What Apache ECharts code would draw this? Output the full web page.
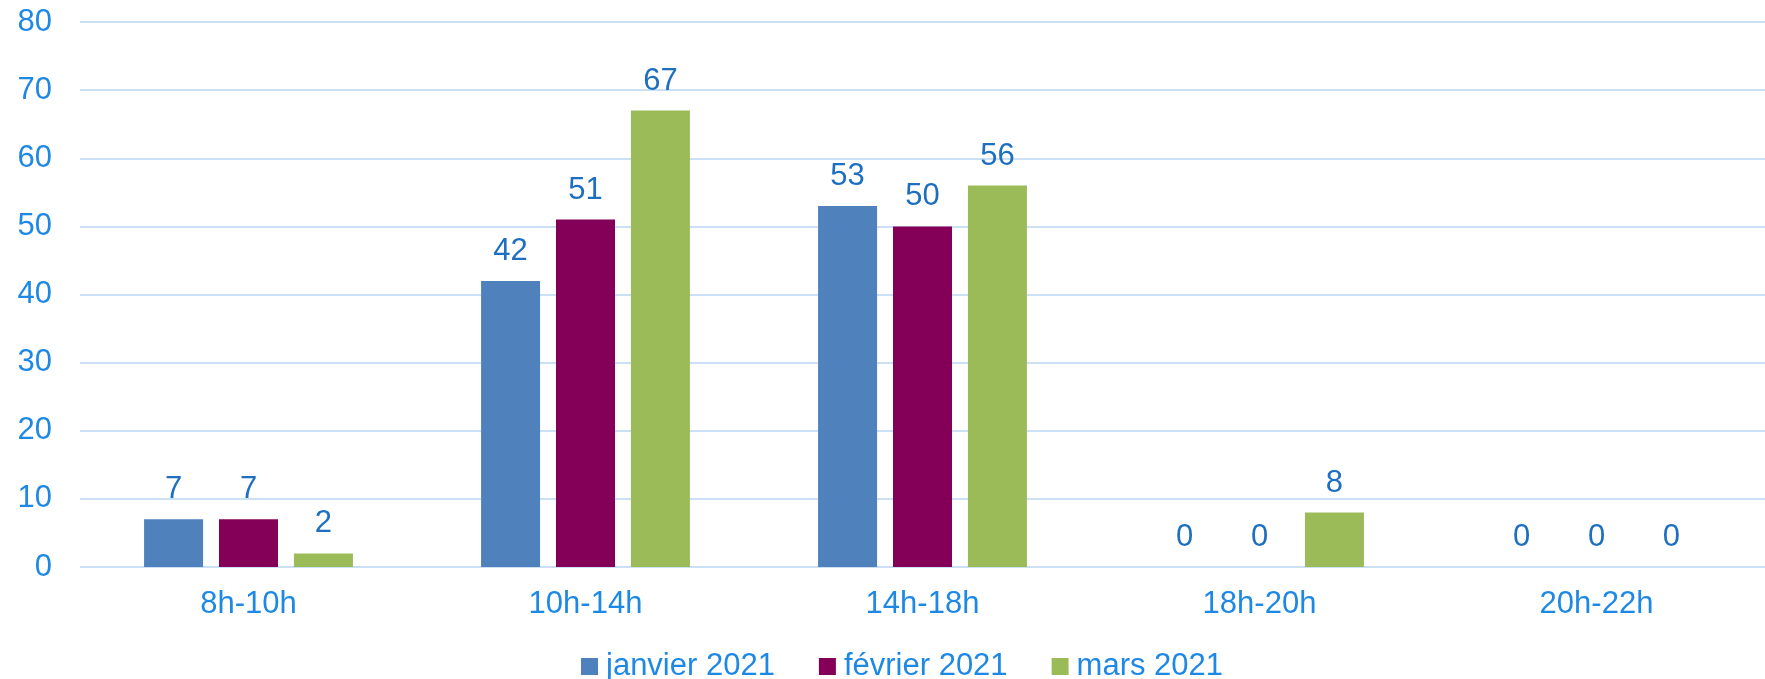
<!DOCTYPE html>
<html>
<head>
<meta charset="utf-8">
<script src="https://cdn.jsdelivr.net/npm/echarts@6/dist/echarts.min.js"></script>
<style>
	html, body { margin: 0; padding: 0; background: #fff; }
	#chart { width: 1765px; height: 679px; }
</style>
</head>
<body>
<div id="chart"></div>
<script>
var categories = ['8h-10h', '10h-14h', '14h-18h', '18h-20h', '20h-22h'];
var seriesNames = ['janvier 2021', 'février 2021', 'mars 2021'];
var janvier = [7, 42, 53, 0, 0];
var fevrier = [7, 51, 50, 0, 0];
var mars = [2, 67, 56, 8, 0];
var yTicks = [0, 10, 20, 30, 40, 50, 60, 70, 80];

var axisColor = '#1E88E5';
var labelColor = '#1F6FC0';
var gridColor = '#CCE0F5';
var fontName = '"Liberation Sans", Arial, sans-serif';
var colors = ['#4F81BD', '#840058', '#9BBB59'];

var chart = echarts.init(document.getElementById('chart'));

function makeSeries(name, data, color) {
	return {
		name: name,
		type: 'bar',
		data: data,
		barWidth: 59,
		barGap: '27%',
		itemStyle: {
			color: color
		},
		label: {
			show: true,
			position: 'top',
			distance: 14,
			color: labelColor,
			fontSize: 31,
			lineHeight: 31,
			fontFamily: fontName
		}
	};
}

var option = {
	backgroundColor: '#fff',
	animation: false,
	grid: {
		left: 80,
		right: 0,
		top: 22,
		bottom: 112
	},
	legend: {
		data: seriesNames,
		left: 576,
		top: 646,
		itemWidth: 17,
		itemHeight: 17,
		itemGap: 44,
		icon: 'rect',
		textStyle: {
			color: axisColor,
			fontSize: 31,
			lineHeight: 31,
			fontFamily: fontName,
			padding: [0, 0, 0, 3]
		}
	},
	xAxis: {
		type: 'category',
		data: categories,
		axisLine: { show: false },
		axisTick: { show: false },
		axisLabel: {
			margin: 22,
			color: axisColor,
			fontSize: 31,
			lineHeight: 31,
			fontFamily: fontName
		}
	},
	yAxis: {
		type: 'value',
		min: yTicks[0],
		max: yTicks[yTicks.length - 1],
		interval: 10,
		axisLine: { show: false },
		axisTick: { show: false },
		axisLabel: {
			margin: 28,
			color: axisColor,
			fontSize: 31,
			fontFamily: fontName
		},
		splitLine: {
			show: true,
			lineStyle: { color: gridColor, width: 2 }
		}
	},
	series: [
		makeSeries(seriesNames[0], janvier, colors[0]),
		makeSeries(seriesNames[1], fevrier, colors[1]),
		makeSeries(seriesNames[2], mars, colors[2])
	]
};

chart.setOption(option);
</script>
</body>
</html>
